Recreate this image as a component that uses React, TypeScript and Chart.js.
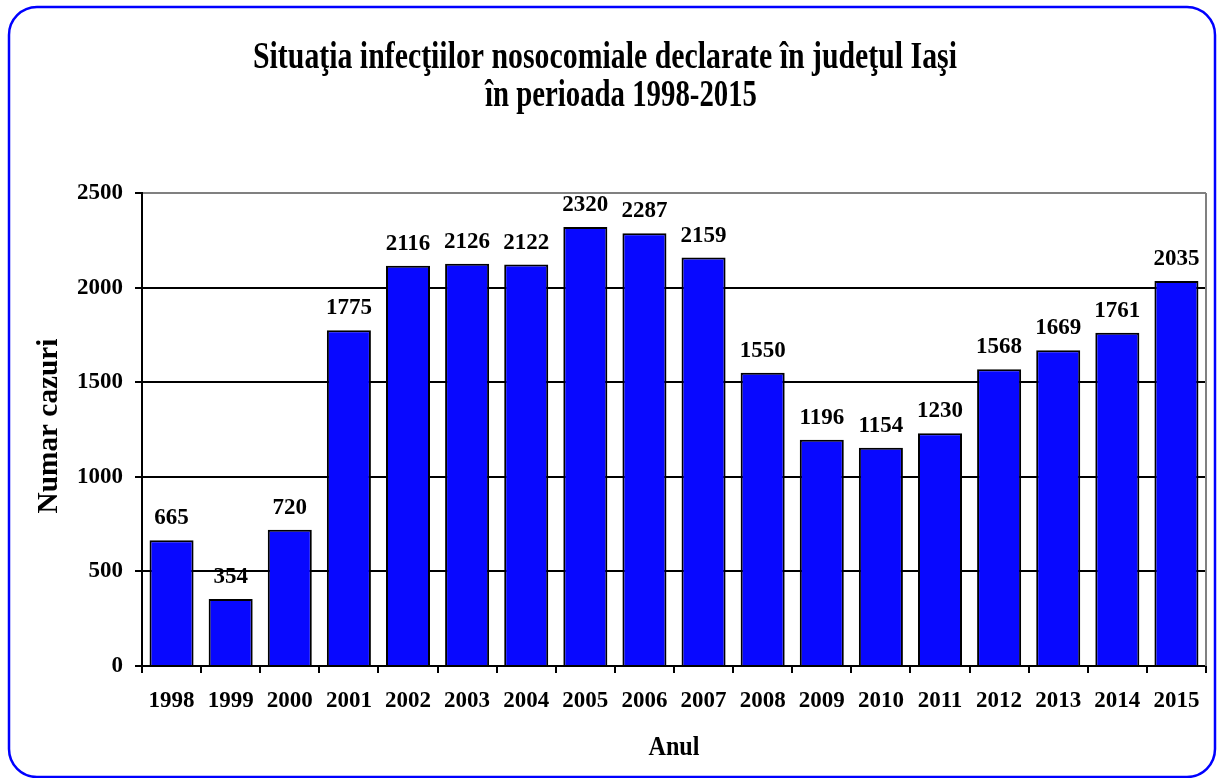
import React, { useEffect, useRef } from "react";
import { Chart, registerables } from "chart.js";

Chart.register(...registerables);

const years = ["1998","1999","2000","2001","2002","2003","2004","2005","2006","2007","2008","2009","2010","2011","2012","2013","2014","2015"];
const cases = [665,354,720,1775,2116,2126,2122,2320,2287,2159,1550,1196,1154,1230,1568,1669,1761,2035];
const yTickValues = [0, 500, 1000, 1500, 2000, 2500];
const titleLines = ["Situaţia infecţiilor nosocomiale declarate în judeţul Iaşi", "în perioada 1998-2015"];
const yTitle = "Numar cazuri";
const xTitle = "Anul";

const SERIF = "'Liberation Serif', 'Times New Roman', serif";

function drawFitted(c: CanvasRenderingContext2D, text: string, cx: number, baseline: number, size: number, width: number) {
  c.save();
  c.font = `bold ${size}px ${SERIF}`;
  c.textAlign = "center";
  c.textBaseline = "alphabetic";
  const w = c.measureText(text).width;
  c.translate(cx, baseline);
  c.scale(width / w, 1);
  c.fillText(text, 0, 0);
  c.restore();
}

const decorPlugin = {
  id: "decor",
  beforeDraw(chart: any) {
    const c = chart.ctx;
    c.save();
    c.fillStyle = "#ffffff";
    c.fillRect(0, 0, chart.width, chart.height);
    c.strokeStyle = "#0000ff";
    c.lineWidth = 2.5;
    c.beginPath();
    (c as any).roundRect(9, 7, 1206, 770, 28);
    c.stroke();
    c.restore();
  },
  afterDraw(chart: any) {
    const c = chart.ctx;
    const a = chart.chartArea;
    c.save();
    c.strokeStyle = "#808080";
    c.lineWidth = 2;
    c.beginPath();
    c.moveTo(a.right, a.top);
    c.lineTo(a.right, a.bottom);
    c.stroke();
    c.fillStyle = "#000";
    drawFitted(c, titleLines[0], 605, 68, 37, 704);
    drawFitted(c, titleLines[1], 621, 106, 37, 272);
    drawFitted(c, xTitle, (a.left + a.right) / 2, 755, 27, 51);
    c.translate(57, 426);
    c.rotate(-Math.PI / 2);
    drawFitted(c, yTitle, 0, 0, 30, 175);
    c.restore();
  },
  afterDatasetsDraw(chart: any) {
    const c = chart.ctx;
    const meta = chart.getDatasetMeta(0);
    c.save();
    c.fillStyle = "#000";
    c.textAlign = "center";
    c.textBaseline = "alphabetic";
    c.font = `bold 23px ${SERIF}`;
    meta.data.forEach((bar: any, i: number) => {
      c.fillText(String(cases[i]), bar.x, bar.y - 16);
    });
    c.restore();
  },
};

export default function App() {
  const ref = useRef<HTMLCanvasElement>(null);
  useEffect(() => {
    if (!ref.current) return;
    const chart = new Chart(ref.current, {
      type: "bar",
      data: {
        labels: years,
        datasets: [
          {
            data: cases,
            backgroundColor: "#0808ff",
            borderColor: "#000000",
            borderWidth: 2,
            categoryPercentage: 1,
            barPercentage: 0.745,
          },
        ],
      },
      options: {
        animation: false,
        responsive: false,
        devicePixelRatio: 1,
        layout: { padding: { top: 193, right: 14, left: 0, bottom: 0 } },
        plugins: { legend: { display: false }, tooltip: { enabled: false }, title: { display: false } },
        scales: {
          x: {
            afterFit(scale: any) { scale.height = 112; },
            grid: { display: true, drawOnChartArea: false, drawTicks: true, tickLength: 7, color: "#000", lineWidth: 2, offset: true },
            border: { display: true, color: "#000", width: 2 },
            ticks: { color: "#000", font: { family: SERIF, size: 23, weight: "bold" }, padding: 14, maxRotation: 0, autoSkip: false },
          },
          y: {
            min: yTickValues[0],
            max: yTickValues[yTickValues.length - 1],
            afterFit(scale: any) { scale.width = 142; },
            afterBuildTicks(scale: any) { scale.ticks = yTickValues.map((v) => ({ value: v })); },
            grid: {
              color: (ctx: any) => (ctx.tick && ctx.tick.value === 2500 ? "#808080" : "#000"),
              lineWidth: 2,
              tickLength: 7,
              tickColor: "#000",
            },
            border: { display: true, color: "#000", width: 2 },
            ticks: { color: "#000", font: { family: SERIF, size: 23, weight: "bold" }, padding: 12, callback: (v: any) => String(v) },
          },
        },
      },
      plugins: [decorPlugin],
    } as any);
    return () => chart.destroy();
  }, []);
  return (
    <div style={{ position: "fixed", left: 0, top: 0, width: 1220, height: 778 }}>
      <canvas ref={ref} width={1220} height={778} style={{ width: 1220, height: 778, display: "block" }} />
    </div>
  );
}
